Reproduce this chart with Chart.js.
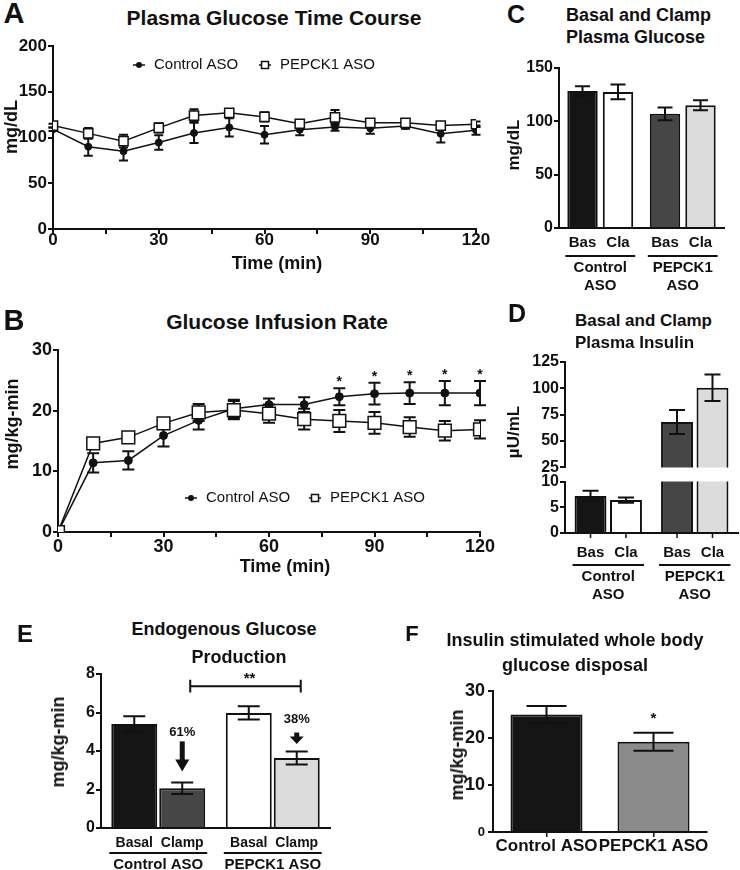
<!DOCTYPE html>
<html lang="en">
<head>
<meta charset="UTF-8">
<title>PEPCK1 ASO clamp study</title>
<script src="https://cdn.jsdelivr.net/npm/chart.js@4.4.1/dist/chart.umd.min.js"></script>
<style>
    body { margin: 0; background: #fff; }
    #fig { position: relative; width: 740px; height: 870px; overflow: hidden; color: #111;
           font-family: 'Liberation Sans', Arial, Helvetica, sans-serif; font-weight: bold; }
    canvas { position: absolute; }
    .t  { position: absolute; transform: translate(-50%, -50%); white-space: nowrap; line-height: 1; }
    .tl { position: absolute; transform: translateY(-50%); white-space: nowrap; line-height: 1; }
    .ty { position: absolute; transform: translate(-50%, -50%) rotate(-90deg); white-space: nowrap; line-height: 1; }
</style>
</head>
<body>
<div id="fig">
    <canvas id="chartA" width="500" height="222" style="left:0;top:32px"></canvas>
    <canvas id="chartB" width="500" height="221" style="left:0;top:336px"></canvas>
    <canvas id="chartC" width="260" height="236" style="left:510px;top:54px"></canvas>
    <canvas id="chartDtop" width="260" height="130" style="left:510px;top:348px"></canvas>
    <canvas id="chartDlow" width="260" height="134" style="left:510px;top:471px"></canvas>
    <canvas id="chartE" width="300" height="210" style="left:60px;top:660px"></canvas>
    <canvas id="chartF" width="270" height="193" style="left:457px;top:677px"></canvas>

    <div class="t" style="left:14px;top:13px;font-size:29px">A</div>
    <div class="t" style="left:274px;top:17px;font-size:21px">Plasma Glucose Time Course</div>
    <div class="ty" style="left:11px;top:127px;font-size:18px">mg/dL</div>
    <div class="t" style="left:277px;top:263px;font-size:18px">Time (min)</div>

    <div class="t" style="left:14px;top:320px;font-size:29px">B</div>
    <div class="t" style="left:277px;top:321px;font-size:21px">Glucose Infusion Rate</div>
    <div class="ty" style="left:12px;top:424px;font-size:18px">mg/kg-min</div>
    <div class="t" style="left:285px;top:566px;font-size:18px">Time (min)</div>

    <div class="t" style="left:516px;top:14px;font-size:25px">C</div>
    <div class="tl" style="left:566px;top:15px;font-size:18px">Basal and Clamp</div>
    <div class="tl" style="left:566px;top:37px;font-size:18px">Plasma Glucose</div>
    <div class="ty" style="left:513px;top:145px;font-size:17px">mg/dL</div>

    <div class="t" style="left:517px;top:313px;font-size:25px">D</div>
    <div class="tl" style="left:575px;top:320px;font-size:17px">Basal and Clamp</div>
    <div class="tl" style="left:575px;top:342px;font-size:17px">Plasma Insulin</div>
    <div class="ty" style="left:513px;top:432px;font-size:17px">µU/mL</div>

    <div class="t" style="left:25px;top:634px;font-size:24px">E</div>
    <div class="t" style="left:224px;top:629px;font-size:18px">Endogenous Glucose</div>
    <div class="t" style="left:239px;top:657px;font-size:18px">Production</div>
    <div class="ty" style="left:58px;top:742px;font-size:18px">mg/kg-min</div>

    <div class="t" style="left:412px;top:634px;font-size:22px">F</div>
    <div class="t" style="left:575px;top:640px;font-size:18px">Insulin stimulated whole body</div>
    <div class="t" style="left:575px;top:665px;font-size:18px">glucose disposal</div>
    <div class="ty" style="left:457px;top:755px;font-size:18px">mg/kg-min</div>
</div>

<script>
    // ---- data ----
    const timePoints = [0, 10, 20, 30, 40, 50, 60, 70, 80, 90, 100, 110, 120];

    const glucoseCtrl    = [109, 90, 85, 94.5, 105, 111, 103, 108.5, 111.5, 110, 112.5, 104, 108];
    const glucoseCtrlErr = [2, 10, 10, 8, 11, 10, 9.5, 6, 4, 6, 3, 9.5, 5];
    const glucosePep     = [113, 104.5, 96, 110.5, 124, 127, 122.5, 115, 122, 116, 116, 113, 114.5];
    const glucosePepErr  = [2, 6, 7, 5, 7, 4, 5, 3, 8, 4, 4, 4, 3];

    const girCtrl    = [0, 11.4, 11.8, 15.9, 18.4, 20.3, 21.0, 21.0, 22.3, 22.8, 22.9, 22.9, 22.9];
    const girCtrlErr = [0, 1.6, 1.5, 1.8, 1.5, 1.5, 1.0, 1.2, 1.4, 1.8, 1.8, 2.0, 2.0];
    const girPep     = [0, 14.6, 15.6, 17.9, 19.7, 20.1, 19.5, 18.6, 18.3, 18.0, 17.3, 16.7, 16.9];
    const girPepErr  = [0, 0.6, 0.4, 0.6, 1.4, 1.5, 1.5, 1.7, 1.8, 1.8, 1.6, 1.6, 1.5];
    const girSig     = ['', '', '', '', '', '', '', '', '*', '*', '*', '*', '*'];

    const groupsTwoLine = [['Control', 'ASO'], ['PEPCK1', 'ASO']];
    const groupsOneLine = ['Control ASO', 'PEPCK1 ASO'];
    const phaseShort = ['Bas', 'Cla'];
    const phaseLong  = ['Basal', 'Clamp'];

    const basalGlucose    = [128.5, 107];
    const basalGlucoseErr = [4.5, 6];
    const clampGlucose    = [127.6, 115];
    const clampGlucoseErr = [7, 4.7];

    const basalInsulin    = [7.2, 68];
    const basalInsulinErr = [1.0, 11.4];
    const clampInsulin    = [6.4, 100.5];
    const clampInsulinErr = [0.5, 12.6];

    const basalEgp    = [5.4, 5.98];
    const basalEgpErr = [0.4, 0.35];
    const clampEgp    = [2.07, 3.64];
    const clampEgpErr = [0.3, 0.34];
    const egpDrop     = ['61%', '38%'];
    const egpSig      = '**';

    const disposal    = [25.0, 19.2];
    const disposalErr = [1.8, 1.9];
    const disposalSig = ['', '*'];

    // ---- look ----
    const FONT = "'Liberation Sans', Arial, Helvetica, sans-serif";
    const INK = '#111';
    Chart.defaults.font.family = FONT;
    Chart.defaults.font.weight = 'bold';
    Chart.defaults.color = INK;
    Chart.defaults.animation = false;
    Chart.defaults.responsive = false;
    Chart.defaults.plugins.legend.display = false;
    Chart.defaults.plugins.tooltip.enabled = false;

    const yOf = v => (typeof v === 'object' ? v.y : v);

    // error bars (SEM), drawn under markers for lines, over bars for bars
    function drawErrors(chart, opts) {
        const ctx = chart.ctx, ys = chart.scales.y, a = chart.chartArea;
        ctx.save();
        ctx.beginPath();
        ctx.rect(a.left - 20, a.top - 1, a.right - a.left + 40, a.bottom - a.top + 2);
        ctx.clip();
        ctx.strokeStyle = INK;
        ctx.lineWidth = 2;
        chart.data.datasets.forEach((ds, i) => {
            if (!ds.errors) return;
            chart.getDatasetMeta(i).data.forEach((el, j) => {
                const e = ds.errors[j];
                if (!e) return;
                const v = yOf(ds.data[j]);
                const top = ys.getPixelForValue(v + e), bot = ys.getPixelForValue(v - e);
                const w = opts.cap / 2;
                ctx.beginPath();
                ctx.moveTo(el.x, top); ctx.lineTo(el.x, bot);
                ctx.moveTo(el.x - w, top); ctx.lineTo(el.x + w, top);
                ctx.moveTo(el.x - w, bot); ctx.lineTo(el.x + w, bot);
                ctx.stroke();
            });
        });
        ctx.restore();
    }
    const errorBars = {
        id: 'errorBars',
        beforeDatasetsDraw(chart, args, opts) { if (!opts.over) drawErrors(chart, opts); },
        afterDatasetsDraw(chart, args, opts) { if (opts.over) drawErrors(chart, opts); }
    };

    // asterisks above the error bar of one dataset
    const sigStars = {
        id: 'sigStars',
        afterDatasetsDraw(chart, args, opts) {
            const ctx = chart.ctx, ys = chart.scales.y;
            const ds = chart.data.datasets[opts.dataset];
            const meta = chart.getDatasetMeta(opts.dataset);
            ctx.save();
            ctx.fillStyle = INK;
            ctx.font = `bold ${opts.size}px ${FONT}`;
            ctx.textAlign = 'center';
            ctx.textBaseline = 'middle';
            opts.marks.forEach((m, j) => {
                if (!m) return;
                const top = ys.getPixelForValue(yOf(ds.data[j]) + (ds.errors[j] || 0));
                ctx.fillText(m, meta.data[j].x, top - opts.gap);
            });
            ctx.restore();
        }
    };

    // legend drawn inside the plot area
    const lineLegend = {
        id: 'lineLegend',
        afterDraw(chart, args, opts) {
            const ctx = chart.ctx, a = chart.chartArea;
            const y = a.top + opts.dy;
            ctx.save();
            ctx.strokeStyle = INK;
            ctx.fillStyle = INK;
            ctx.lineWidth = 1.5;
            chart.data.datasets.forEach((ds, i) => {
                const x = a.left + opts.dx[i];
                ctx.beginPath();
                ctx.moveTo(x - 6, y); ctx.lineTo(x + 6, y);
                ctx.stroke();
                if (ds.pointStyle === 'rect') {
                    ctx.fillStyle = '#fff';
                    ctx.fillRect(x - 3.5, y - 3.5, 7, 7);
                    ctx.strokeRect(x - 3.5, y - 3.5, 7, 7);
                } else {
                    ctx.fillStyle = INK;
                    ctx.beginPath();
                    ctx.arc(x, y, 3, 0, Math.PI * 2);
                    ctx.fill();
                }
                ctx.fillStyle = INK;
                ctx.font = `normal 15px ${FONT}`;
                ctx.textBaseline = 'middle';
                ctx.fillText(ds.label, x + 15, y);
            });
            ctx.restore();
        }
    };

    // Basal / Clamp labels under each bar plus the group underline
    const subAxis = {
        id: 'subAxis',
        afterDraw(chart, args, opts) {
            const ctx = chart.ctx, bottom = chart.chartArea.bottom;
            const first = chart.getDatasetMeta(0).data;
            const last = chart.getDatasetMeta(chart.data.datasets.length - 1).data;
            ctx.save();
            ctx.fillStyle = INK;
            ctx.strokeStyle = INK;
            ctx.font = `bold ${opts.size}px ${FONT}`;
            ctx.textAlign = 'center';
            ctx.textBaseline = 'middle';
            chart.data.datasets.forEach((ds, i) => {
                chart.getDatasetMeta(i).data.forEach(el => {
                    ctx.fillText(opts.labels[i], el.x, bottom + opts.labelDy);
                    if (opts.barTicks) {
                        ctx.lineWidth = 1.5;
                        ctx.beginPath();
                        ctx.moveTo(el.x, bottom); ctx.lineTo(el.x, bottom + 5);
                        ctx.stroke();
                    }
                });
            });
            ctx.lineWidth = 2;
            first.forEach((el, j) => {
                ctx.beginPath();
                ctx.moveTo(el.x - el.width / 2 - 2, bottom + opts.lineDy);
                ctx.lineTo(last[j].x + last[j].width / 2 + 2, bottom + opts.lineDy);
                ctx.stroke();
            });
            ctx.restore();
        }
    };

    // EGP: ** bracket and suppression arrows
    const egpMarks = {
        id: 'egpMarks',
        afterDatasetsDraw(chart, args, opts) {
            const ctx = chart.ctx, ys = chart.scales.y;
            const clamp = chart.getDatasetMeta(1).data;
            ctx.save();
            ctx.strokeStyle = INK;
            ctx.fillStyle = INK;
            ctx.lineWidth = 2;
            const x1 = clamp[0].x + opts.inset[0], x2 = clamp[1].x + opts.inset[1];
            const yb = ys.getPixelForValue(opts.bracketAt);
            const c1 = ys.getPixelForValue(opts.bracketAt + opts.cap), c2 = ys.getPixelForValue(opts.bracketAt - opts.cap);
            ctx.beginPath();
            ctx.moveTo(x1, yb); ctx.lineTo(x2, yb);
            ctx.moveTo(x1, c1); ctx.lineTo(x1, c2);
            ctx.moveTo(x2, c1); ctx.lineTo(x2, c2);
            ctx.stroke();
            ctx.textAlign = 'center';
            ctx.textBaseline = 'middle';
            ctx.font = `bold 15px ${FONT}`;
            ctx.fillText(egpSig, (x1 + x2) / 2 + 4, yb - 7);

            ctx.font = `bold 13px ${FONT}`;
            clamp.forEach((el, j) => {
                const top = ys.getPixelForValue(opts.arrowFrom[j]);
                const tip = ys.getPixelForValue(opts.arrowTo[j]);
                const head = Math.min(12, (tip - top) * 0.65);
                ctx.fillRect(el.x - 2.5, top, 5, tip - top - head + 1);
                ctx.beginPath();
                ctx.moveTo(el.x - 7, tip - head);
                ctx.lineTo(el.x + 7, tip - head);
                ctx.lineTo(el.x, tip);
                ctx.closePath();
                ctx.fill();
                ctx.fillText(egpDrop[j], el.x, ys.getPixelForValue(opts.labelAt[j]));
            });
            ctx.restore();
        }
    };

    // ---- axis helpers ----
    function yAxis(min, max, step, width, size, extra) {
        return Object.assign({
            min: min, max: max,
            ticks: { stepSize: step, padding: 1, font: { size: size } },
            grid: { drawOnChartArea: false, color: INK, lineWidth: 2, tickLength: 5 },
            border: { color: INK, width: 2 },
            afterFit(s) { s.width = width; }
        }, extra || {});
    }
    function timeAxis(height, size, pad) {
        return {
            type: 'linear', min: 0, max: 120,
            ticks: { stepSize: 15, autoSkip: false, maxRotation: 0, padding: pad, font: { size: size },
                     callback: v => (v % 30 === 0 ? v : '') },
            grid: { drawOnChartArea: false, color: INK, lineWidth: 2, tickLength: 5 },
            border: { color: INK, width: 2 },
            afterFit(s) { s.height = height; }
        };
    }
    function groupAxis(height, size, pad, extra) {
        return Object.assign({
            ticks: { padding: pad, autoSkip: false, maxRotation: 0, font: { size: size } },
            grid: { display: false, drawTicks: false },
            border: { color: INK, width: 2 },
            afterFit(s) { s.height = height; }
        }, extra || {});
    }

    // ---- time courses (A, B) ----
    function timeCourse(id, ctrl, ctrlErr, pep, pepErr, look) {
        return new Chart(document.getElementById(id), {
            type: 'line',
            data: {
                datasets: [
                    {
                        label: 'Control ASO', order: 1, errors: ctrlErr,
                        data: timePoints.map((t, i) => ({ x: t, y: ctrl[i] })),
                        borderColor: INK, borderWidth: 1.5, pointStyle: 'circle',
                        pointRadius: look.dot, pointBackgroundColor: INK, pointBorderColor: INK, pointBorderWidth: 1
                    },
                    {
                        label: 'PEPCK1 ASO', order: 0, errors: pepErr,
                        data: timePoints.map((t, i) => ({ x: t, y: pep[i] })),
                        borderColor: INK, borderWidth: 1.5, pointStyle: 'rect',
                        pointRadius: look.box, pointBackgroundColor: '#fff', pointBorderColor: INK, pointBorderWidth: 1.5
                    }
                ]
            },
            options: {
                layout: { padding: { top: 14, right: look.padRight, left: 0, bottom: 0 } },
                scales: {
                    x: timeAxis(25, look.tick, look.xPad),
                    y: yAxis(0, look.yMax, look.yStep, look.yWidth, look.tick)
                },
                plugins: {
                    errorBars: { cap: look.cap, over: false },
                    lineLegend: { dx: look.legendDx, dy: look.legendDy },
                    sigStars: look.stars || false
                }
            },
            plugins: [errorBars, lineLegend, sigStars]
        });
    }

    timeCourse('chartA', glucoseCtrl, glucoseCtrlErr, glucosePep, glucosePepErr, {
        dot: 3.5, box: 6.5, cap: 9, tick: 17, xPad: -4, padRight: 24, yWidth: 53,
        yMax: 200, yStep: 50, legendDx: [86, 212], legendDy: 19
    });
    timeCourse('chartB', girCtrl, girCtrlErr, girPep, girPepErr, {
        dot: 4, box: 9, cap: 12, tick: 18, xPad: -1, padRight: 20, yWidth: 58,
        yMax: 30, yStep: 10, legendDx: [133, 257], legendDy: 148,
        stars: { dataset: 0, marks: girSig, gap: 6, size: 14 }
    });

    // ---- basal / clamp bars (C, D, E) ----
    function phaseBars(basal, basalErr, clamp, clampErr, colors, geom) {
        return [
            { label: 'Basal', data: basal, errors: basalErr, backgroundColor: colors[0],
              borderColor: INK, borderWidth: 2, categoryPercentage: geom[0], barPercentage: geom[1], clip: 0 },
            { label: 'Clamp', data: clamp, errors: clampErr, backgroundColor: colors[1],
              borderColor: INK, borderWidth: 2, categoryPercentage: geom[0], barPercentage: geom[1], clip: 0 }
        ];
    }
    const cdColors = [['#151515', '#464646'], ['#ffffff', '#dcdcdc']];

    new Chart(document.getElementById('chartC'), {
        type: 'bar',
        data: { labels: groupsTwoLine,
                datasets: phaseBars(basalGlucose, basalGlucoseErr, clampGlucose, clampGlucoseErr, cdColors, [0.86, 0.857]) },
        options: {
            layout: { padding: { top: 14, right: 46, left: 0, bottom: 0 } },
            scales: { x: groupAxis(62, 15, 31), y: yAxis(0, 150, 50, 49, 16) },
            plugins: { errorBars: { cap: 15, over: true }, subAxis: { labels: phaseShort, size: 15, labelDy: 15, lineDy: 28 } }
        },
        plugins: [errorBars, subAxis]
    });

    // D: broken axis, upper and lower segments share the same data
    new Chart(document.getElementById('chartDtop'), {
        type: 'bar',
        data: { labels: groupsTwoLine,
                datasets: phaseBars(basalInsulin, basalInsulinErr, clampInsulin, clampInsulinErr, cdColors, [0.82, 0.9]) },
        options: {
            layout: { padding: { top: 14, right: 32, left: 0, bottom: 10 } },
            scales: { x: { display: false }, y: yAxis(25, 125, 25, 55, 16) },
            plugins: { errorBars: { cap: 16, over: true } }
        },
        plugins: [errorBars]
    });
    new Chart(document.getElementById('chartDlow'), {
        type: 'bar',
        data: { labels: groupsTwoLine,
                datasets: phaseBars(basalInsulin, basalInsulinErr, clampInsulin, clampInsulinErr, cdColors, [0.82, 0.9]) },
        options: {
            layout: { padding: { top: 10, right: 32, left: 0, bottom: 0 } },
            scales: { x: groupAxis(72, 15, 35), y: yAxis(0, 10, 5, 55, 16) },
            plugins: { errorBars: { cap: 16, over: true },
                       subAxis: { labels: phaseShort, size: 15, labelDy: 20, lineDy: 32, barTicks: true } }
        },
        plugins: [errorBars, subAxis]
    });

    new Chart(document.getElementById('chartE'), {
        type: 'bar',
        data: { labels: groupsOneLine,
                datasets: phaseBars(basalEgp, basalEgpErr, clampEgp, clampEgpErr,
                                    [['#151515', '#ffffff'], ['#464646', '#dcdcdc']], [0.838, 0.958]) },
        options: {
            layout: { padding: { top: 14, right: 30, left: 0, bottom: 0 } },
            scales: { x: groupAxis(42, 15, 28), y: yAxis(0, 8, 2, 41, 16) },
            plugins: {
                errorBars: { cap: 22, over: true },
                subAxis: { labels: phaseLong, size: 14, labelDy: 15, lineDy: 25 },
                egpMarks: { bracketAt: 7.37, cap: 0.33, inset: [8, 4],
                            arrowFrom: [4.5, 4.96], arrowTo: [2.94, 4.37], labelAt: [4.96, 5.66] }
            }
        },
        plugins: [errorBars, subAxis, egpMarks]
    });

    // ---- whole body disposal (F) ----
    new Chart(document.getElementById('chartF'), {
        type: 'bar',
        data: {
            labels: groupsOneLine,
            datasets: [{ label: 'Glucose disposal', data: disposal, errors: disposalErr,
                         backgroundColor: ['#151515', '#8a8a8a'], borderColor: INK, borderWidth: 2,
                         categoryPercentage: 1, barPercentage: 0.673 }]
        },
        options: {
            layout: { padding: { top: 14, right: 20, left: 0, bottom: 0 } },
            scales: {
                x: groupAxis(38, 17, -1, {
                    grid: { display: true, drawOnChartArea: false, offset: false, color: INK, lineWidth: 1.5, tickLength: 5 }
                }),
                y: yAxis(0, 30, 10, 36, 18, {
                    ticks: { stepSize: 10, padding: 3, font: c => ({ size: c.tick && c.tick.value === 0 ? 13 : 18 }) }
                })
            },
            plugins: {
                errorBars: { cap: 40, over: true },
                sigStars: { dataset: 0, marks: disposalSig, gap: 14, size: 15 }
            }
        },
        plugins: [errorBars, sigStars]
    });
</script>
</body>
</html>
